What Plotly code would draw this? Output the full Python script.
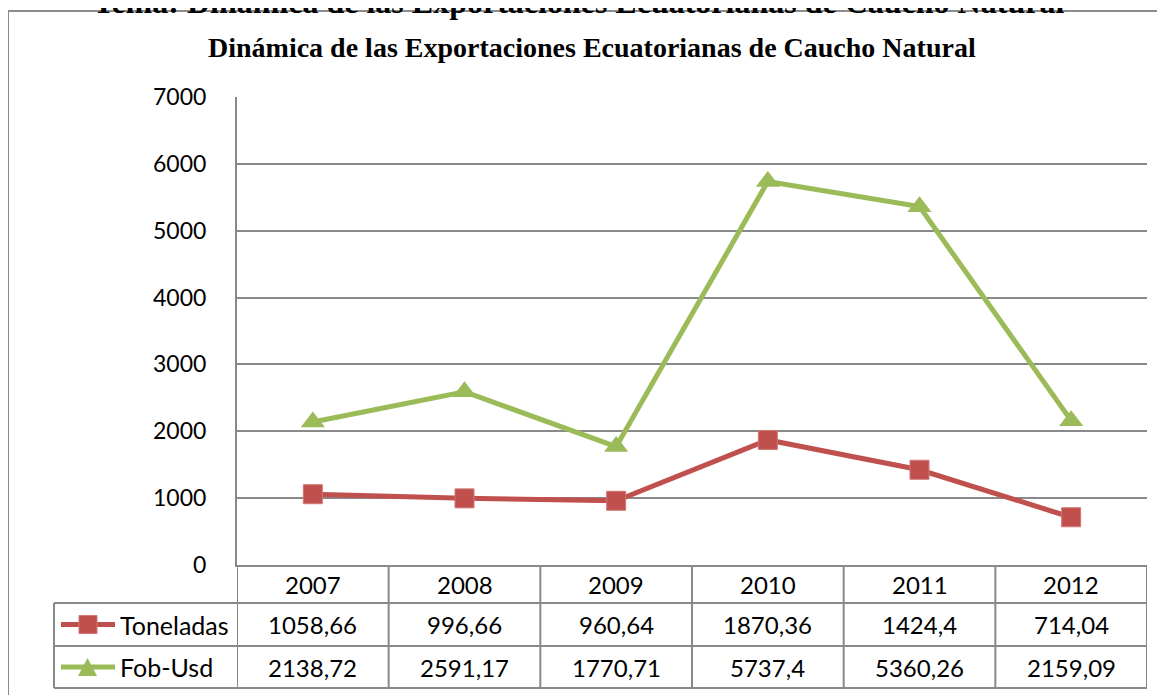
import plotly.graph_objects as go

years = ["2007", "2008", "2009", "2010", "2011", "2012"]
toneladas = [1058.66, 996.66, 960.64, 1870.36, 1424.4, 714.04]
fob_usd = [2138.72, 2591.17, 1770.71, 5737.4, 5360.26, 2159.09]
toneladas_lbl = ["1058,66", "996,66", "960,64", "1870,36", "1424,4", "714,04"]
fob_lbl = ["2138,72", "2591,17", "1770,71", "5737,4", "5360,26", "2159,09"]
series_names = ["Toneladas", "Fob-Usd"]
y_ticks = [0, 1000, 2000, 3000, 4000, 5000, 6000, 7000]

RED = "#C0504D"
GREEN = "#9BBB59"
GRID = "#898989"
FONT = "Lato"

OFF = 8  # page body margin
W, H = 1165 - OFF, 695 - OFF
L, R, T, B = 237 - OFF, 18, 97 - OFF, 130
PW = W - L - R
PH = H - T - B


def px(xp):
    return (xp - 237) / PW


def py(yp):
    return (565 - yp) / PH


xs = list(range(len(years)))

fig = go.Figure()
fig.add_trace(go.Scatter(x=xs, y=toneladas, mode="lines+markers", name=series_names[0],
                         line=dict(color=RED, width=5),
                         marker=dict(symbol="square", size=19, color=RED,
                                     line=dict(color="#D07774", width=1))))
fig.add_trace(go.Scatter(x=xs, y=fob_usd, mode="lines+markers", name=series_names[1],
                         line=dict(color=GREEN, width=5),
                         marker=dict(symbol="triangle-up", size=21, color=GREEN)))

shapes = []
ann = []

# outer chart border
shapes.append(dict(type="rect", xref="paper", yref="paper", x0=px(8), x1=px(1200),
                   y0=py(720), y1=py(11), line=dict(color="#8C8C8C", width=2), layer="below"))

# table lines
tb_top, r1, r2, tb_bot = 565, 603, 646, 688
for i in range(len(years) + 1):
    shapes.append(dict(type="line", xref="x", yref="paper", x0=i - 0.5, x1=i - 0.5,
                       y0=py(tb_top), y1=py(tb_bot), line=dict(color=GRID, width=2)))
for yy in [r1, r2, tb_bot]:
    shapes.append(dict(type="line", xref="paper", yref="paper", x0=px(54), x1=px(1147),
                       y0=py(yy), y1=py(yy), line=dict(color=GRID, width=2)))
shapes.append(dict(type="line", xref="paper", yref="paper", x0=px(54), x1=px(54),
                   y0=py(r1), y1=py(tb_bot), line=dict(color=GRID, width=2)))

# legend keys inside table
for cy, col, sym in [(624.5, RED, "square"), (667, GREEN, "tri")]:
    shapes.append(dict(type="line", xref="paper", yref="paper", x0=px(61), x1=px(115),
                       y0=py(cy), y1=py(cy), line=dict(color=col, width=5)))
    if sym == "square":
        shapes.append(dict(type="rect", xref="paper", yref="paper", x0=px(79), x1=px(97),
                           y0=py(cy + 9), y1=py(cy - 9), fillcolor=col,
                           line=dict(color="#D07774", width=1)))
    else:
        path = "M {},{} L {},{} L {},{} Z".format(px(78), py(cy + 9), px(97), py(cy + 9),
                                                  px(87.5), py(cy - 9))
        shapes.append(dict(type="path", xref="paper", yref="paper", path=path,
                           fillcolor=col, line=dict(color=col, width=0)))

# table text
tf = dict(family=FONT, size=24, color="#000")
for i, yv in enumerate(years):
    ann.append(dict(x=i, y=py(584), xref="x", yref="paper", text=yv, showarrow=False,
                    xanchor="center", yanchor="middle", font=tf))
    ann.append(dict(x=i, y=py(624.5), xref="x", yref="paper", text=toneladas_lbl[i],
                    showarrow=False, xanchor="center", yanchor="middle", font=tf))
    ann.append(dict(x=i, y=py(667), xref="x", yref="paper", text=fob_lbl[i],
                    showarrow=False, xanchor="center", yanchor="middle", font=tf))
for cy, name in [(624.5, series_names[0]), (667, series_names[1])]:
    ann.append(dict(x=px(118), y=py(cy), xref="paper", yref="paper", text=name,
                    xanchor="left", yanchor="middle", showarrow=False,
                    font=dict(family=FONT, size=25, color="#000")))

# titles
ann.append(dict(x=px(592), y=py(48), xref="paper", yref="paper",
                xanchor="center", yanchor="middle",
                text="<b>Dinámica de las Exportaciones Ecuatorianas de Caucho Natural</b>",
                showarrow=False, font=dict(family="Liberation Serif", size=28, color="#000")))
ann.append(dict(x=px(578), y=py(22), xref="paper", yref="paper",
                xanchor="center", yanchor="bottom",
                text="<b>Tema: Dinámica de las Exportaciones Ecuatorianas de Caucho Natural</b>",
                showarrow=False, font=dict(family="Liberation Serif", size=32, color="#000")))

fig.update_layout(
    width=W, height=H,
    margin=dict(l=L, r=R, t=T, b=B, pad=0),
    paper_bgcolor="white", plot_bgcolor="white",
    showlegend=False,
    shapes=shapes, annotations=ann,
    xaxis=dict(range=[-0.5, 5.5], showgrid=False, showticklabels=False, zeroline=False,
               showline=True, linecolor=GRID, linewidth=2, fixedrange=True),
    yaxis=dict(range=[0, 7000], tickvals=y_ticks, showgrid=True, gridcolor=GRID,
               gridwidth=2, zeroline=False, showline=True, linecolor=GRID, linewidth=2,
               ticks="", ticklabelstandoff=24,
               tickfont=dict(family=FONT, size=23, color="#000"), fixedrange=True),
)

fig.write_html("out.html")
